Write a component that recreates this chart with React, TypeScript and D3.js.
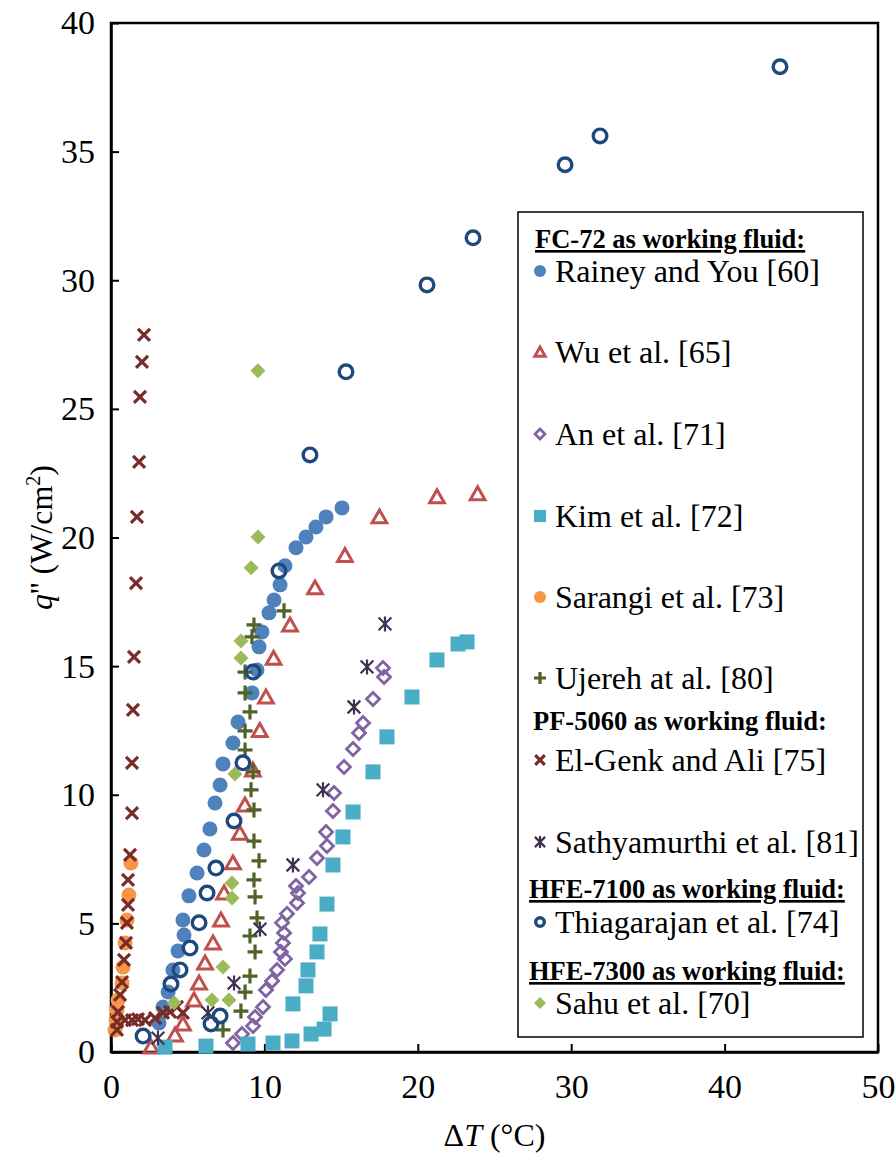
import React, { useRef, useEffect } from 'react';
import * as d3 from 'd3';

// [ΔT, q''] pairs
const rainey = [
  [3.13, 1.13], [3.39, 1.75], [3.72, 2.33], [4.04, 3.19], [4.37, 3.93], [4.76, 4.55], [4.69, 5.13],
  [5.08, 6.07], [5.61, 6.96], [6.06, 7.85], [6.45, 8.67], [6.78, 9.68], [7.11, 10.38], [7.3, 11.2],
  [7.95, 12.01], [8.28, 12.83], [9.19, 13.96], [9.52, 14.85], [9.65, 15.75], [9.84, 16.33],
  [10.3, 17.07], [10.63, 17.57], [11.02, 18.16], [11.34, 18.9], [12.06, 19.6], [12.71, 20.02],
  [13.36, 20.41], [14.02, 20.8], [15.06, 21.15],
];
const wu = [
  [2.61, 0.19], [4.17, 0.66], [4.69, 1.09], [5.41, 2.02], [5.74, 2.68], [6.13, 3.46], [6.65, 4.24],
  [7.17, 5.13], [7.37, 6.18], [7.95, 7.35], [8.4, 8.5], [8.73, 9.6], [9.25, 10.96], [9.7, 12.5],
  [10.1, 13.8], [10.6, 15.3], [11.67, 16.6], [13.3, 18.04], [15.25, 19.3], [17.5, 20.8],
  [21.25, 21.58], [23.9, 21.7],
];
const an = [
  [7.95, 0.35], [8.54, 0.7], [9.26, 1.01], [9.39, 1.36], [9.91, 1.75], [10.1, 2.41], [10.5, 2.76],
  [10.82, 3.19], [11.34, 3.62], [11.08, 3.89], [11.21, 4.24], [11.28, 4.63], [11.15, 5.02],
  [11.47, 5.37], [12.13, 5.79], [12.19, 6.18], [12.06, 6.45], [12.91, 6.8], [13.43, 7.54],
  [14.08, 8.01], [14.02, 8.55], [14.47, 9.37], [14.54, 10.07], [15.19, 11.08], [15.78, 11.78],
  [16.17, 12.4], [16.43, 12.79], [17.08, 13.72], [17.8, 14.58], [17.73, 14.93],
];
const kim = [
  [3.52, 0.19], [6.19, 0.23], [8.93, 0.31], [10.56, 0.35], [11.8, 0.43], [13.04, 0.7], [13.89, 0.89],
  [14.28, 1.48], [11.86, 1.87], [12.71, 2.57], [12.84, 3.19], [13.43, 3.89], [13.62, 4.59],
  [14.08, 5.75], [14.47, 7.27], [15.12, 8.36], [15.78, 9.33], [17.08, 10.89], [17.99, 12.25],
  [19.62, 13.8], [21.25, 15.24], [22.62, 15.86], [23.21, 15.94],
];
const sarangi = [
  [1.3, 7.35], [1.17, 6.1], [1.04, 5.13], [0.91, 4.24], [0.78, 3.3], [0.72, 2.68], [0.46, 2.02],
  [0.39, 1.63], [0.33, 1.24], [0.26, 0.86],
];
const ujereh = [
  [7.3, 0.86], [8.47, 1.59], [8.74, 2.33], [9.06, 2.95], [9.39, 3.89], [9.06, 4.51], [9.52, 5.21],
  [9.39, 6.03], [9.32, 6.69], [9.65, 7.43], [9.32, 8.2], [9.32, 9.41], [9.13, 10.19], [9.26, 10.89],
  [8.74, 11.74], [8.74, 12.48], [9.06, 13.22], [8.74, 13.96], [8.74, 14.77], [9.19, 16.14],
  [9.32, 16.6], [11.28, 17.15],
];
const elGenk = [
  [2.15, 27.88], [2.02, 26.83], [1.89, 25.47], [1.83, 22.94], [1.69, 20.8], [1.63, 18.23],
  [1.5, 15.36], [1.43, 13.3], [1.37, 11.24], [1.37, 9.29], [1.24, 7.66], [1.11, 6.69], [1.11, 5.72],
  [1.04, 5.02], [0.98, 4.24], [0.85, 3.58], [0.72, 2.72], [0.59, 2.22], [0.46, 1.56], [0.39, 1.17],
  [0.39, 0.86], [0.91, 1.24], [1.37, 1.24], [1.76, 1.28], [2.22, 1.24], [2.87, 1.32], [3.39, 1.52],
  [3.85, 1.56], [4.3, 1.75], [4.69, 1.52],
];
const sathyamurthi = [
  [3.06, 0.54], [6.32, 1.52], [8.02, 2.68], [9.71, 4.78], [11.86, 7.27], [13.82, 10.19],
  [15.84, 13.41], [16.69, 14.97], [17.86, 16.64],
];
const thiagarajan = [
  [2.09, 0.62], [3.91, 2.64], [4.5, 3.19], [5.15, 4.04], [5.74, 5.02], [6.26, 6.18], [6.84, 7.15],
  [8.02, 8.98], [8.6, 11.24], [9.26, 14.77], [10.95, 18.7], [6.52, 1.09], [7.11, 1.4],
  [12.97, 23.21], [15.32, 26.44], [20.6, 29.82], [23.6, 31.65], [29.6, 34.49], [31.88, 35.61],
  [43.61, 38.3],
];
const sahu = [
  [4.11, 1.91], [6.58, 2.02], [7.69, 2.02], [7.3, 3.3], [7.89, 5.99], [7.89, 6.57], [8.08, 10.81],
  [8.47, 15.32], [8.47, 15.98], [9.13, 18.82], [9.58, 20.02], [9.58, 26.48],
];

const xTicks = [0, 10, 20, 30, 40, 50];
const yTicks = [0, 5, 10, 15, 20, 25, 30, 35, 40];

const series = [
  { name: 'Rainey and You [60]', data: rainey, shape: 'circle', color: '#4f81bd', size: 15 },
  { name: 'Wu et al. [65]', data: wu, shape: 'triangle', color: '#c0504d', size: 16 },
  { name: 'An et al. [71]', data: an, shape: 'diamondOpen', color: '#8064a2', size: 15 },
  { name: 'Kim et al. [72]', data: kim, shape: 'square', color: '#4bacc6', size: 15 },
  { name: 'Sarangi et al. [73]', data: sarangi, shape: 'circle', color: '#f79646', size: 15 },
  { name: 'Ujereh at al. [80]', data: ujereh, shape: 'plus', color: '#4f6228', size: 15 },
  { name: 'El-Genk and Ali [75]', data: elGenk, shape: 'cross', color: '#772c2a', size: 15 },
  { name: 'Sathyamurthi et al. [81]', data: sathyamurthi, shape: 'asterisk', color: '#403152', size: 15 },
  { name: 'Thiagarajan et al. [74]', data: thiagarajan, shape: 'ring', color: '#1f497d', size: 17 },
  { name: 'Sahu et al. [70]', data: sahu, shape: 'diamond', color: '#9bbb59', size: 15 },
];

const FONT = 'Liberation Serif, Times New Roman, serif';

function drawMarker(g, shape, cx, cy, s, color) {
  const h = s / 2;
  if (shape === 'circle') {
    g.append('circle').attr('cx', cx).attr('cy', cy).attr('r', h).attr('fill', color);
  } else if (shape === 'ring') {
    g.append('circle').attr('cx', cx).attr('cy', cy).attr('r', h - 1.7)
      .attr('fill', 'none').attr('stroke', color).attr('stroke-width', 3.4);
  } else if (shape === 'triangle') {
    const r = h - 1;
    g.append('path')
      .attr('d', `M${cx},${cy - r}L${cx + r * 1.05},${cy + r * 0.85}L${cx - r * 1.05},${cy + r * 0.85}Z`)
      .attr('fill', 'none').attr('stroke', color).attr('stroke-width', 3).attr('stroke-linejoin', 'miter');
  } else if (shape === 'diamondOpen') {
    const r = h - 1;
    g.append('path')
      .attr('d', `M${cx},${cy - r}L${cx + r},${cy}L${cx},${cy + r}L${cx - r},${cy}Z`)
      .attr('fill', 'none').attr('stroke', color).attr('stroke-width', 2.8);
  } else if (shape === 'diamond') {
    g.append('path')
      .attr('d', `M${cx},${cy - h}L${cx + h},${cy}L${cx},${cy + h}L${cx - h},${cy}Z`)
      .attr('fill', color);
  } else if (shape === 'square') {
    g.append('rect').attr('x', cx - h).attr('y', cy - h).attr('width', s).attr('height', s)
      .attr('fill', color);
  } else if (shape === 'plus') {
    g.append('path')
      .attr('d', `M${cx - h},${cy}L${cx + h},${cy}M${cx},${cy - h}L${cx},${cy + h}`)
      .attr('stroke', color).attr('stroke-width', 3.2);
  } else if (shape === 'cross') {
    const r = h * 0.8;
    g.append('path')
      .attr('d', `M${cx - r},${cy - r}L${cx + r},${cy + r}M${cx - r},${cy + r}L${cx + r},${cy - r}`)
      .attr('stroke', color).attr('stroke-width', 3.2);
  } else if (shape === 'asterisk') {
    const r = h * 0.85;
    g.append('path')
      .attr('d', `M${cx - r},${cy - r}L${cx + r},${cy + r}M${cx - r},${cy + r}L${cx + r},${cy - r}M${cx},${cy - h}L${cx},${cy + h}`)
      .attr('stroke', color).attr('stroke-width', 2.2);
  }
}

export default function App() {
  const svgRef = useRef(null);
  const width = 896;
  const height = 1153;
  const margin = { top: 23, right: 18, bottom: 101, left: 111 };

  useEffect(() => {
    const svg = d3.select(svgRef.current);
    svg.selectAll('*').remove();

    const x = d3.scaleLinear().domain([0, 50]).range([margin.left, width - margin.right]);
    const y = d3.scaleLinear().domain([0, 40]).range([height - margin.bottom, margin.top]);

    // frame
    svg.append('rect')
      .attr('x', x(0)).attr('y', y(40))
      .attr('width', x(50) - x(0)).attr('height', y(0) - y(40))
      .attr('fill', 'none').attr('stroke', 'black').attr('stroke-width', 2.5);

    // x axis, ticks inside
    svg.append('g')
      .attr('transform', `translate(0,${y(0)})`)
      .call(d3.axisBottom(x).tickValues(xTicks).tickSize(-8).tickSizeOuter(0).tickPadding(22))
      .call(g => g.select('.domain').attr('stroke-width', 2.5))
      .call(g => g.selectAll('.tick line').attr('stroke-width', 2))
      .call(g => g.selectAll('.tick text').attr('font-size', 34).attr('font-family', FONT).attr('fill', 'black'));

    // y axis, ticks inside
    svg.append('g')
      .attr('transform', `translate(${x(0)},0)`)
      .call(d3.axisLeft(y).tickValues(yTicks).tickSize(-8).tickSizeOuter(0).tickPadding(16))
      .call(g => g.select('.domain').attr('stroke-width', 2.5))
      .call(g => g.selectAll('.tick line').attr('stroke-width', 2))
      .call(g => g.selectAll('.tick text').attr('font-size', 34).attr('font-family', FONT).attr('fill', 'black'));

    // axis titles
    const xt = svg.append('text')
      .attr('x', (x(0) + x(50)) / 2).attr('y', 1146)
      .attr('text-anchor', 'middle').attr('font-size', 32).attr('font-family', FONT);
    xt.append('tspan').text('Δ');
    xt.append('tspan').attr('font-style', 'italic').text('T');
    xt.append('tspan').text(' (°C)');

    const yt = svg.append('text')
      .attr('transform', `translate(52,${(y(0) + y(40)) / 2}) rotate(-90)`)
      .attr('text-anchor', 'middle').attr('font-size', 32).attr('font-family', FONT);
    yt.append('tspan').attr('font-style', 'italic').text('q');
    yt.append('tspan').text("'' (W/cm");
    yt.append('tspan').attr('font-size', 20).attr('dy', -12).text('2');
    yt.append('tspan').attr('dy', 12).text(')');

    // data points
    const pts = svg.append('g');
    series.forEach(s => {
      s.data.forEach(([dx, dy]) => drawMarker(pts, s.shape, x(dx), y(dy), s.size, s.color));
    });

    // legend
    const lg = svg.append('g');
    lg.append('rect').attr('x', 518).attr('y', 212).attr('width', 345).attr('height', 825)
      .attr('fill', 'white').attr('stroke', 'black').attr('stroke-width', 1.5);

    const headers = [
      { text: 'FC-72 as working fluid:', x: 535, y: 248, underline: true },
      { text: 'PF-5060 as working fluid:', x: 533, y: 730, underline: false },
      { text: 'HFE-7100 as working fluid:', x: 529, y: 898, underline: true },
      { text: 'HFE-7300 as working fluid:', x: 529, y: 980, underline: true },
    ];
    headers.forEach(h => {
      lg.append('text').attr('x', h.x).attr('y', h.y)
        .attr('font-size', 26.5).attr('font-weight', 'bold').attr('font-family', FONT)
        .attr('text-decoration', h.underline ? 'underline' : 'none')
        .text(h.text);
    });

    const rowY = [271, 352, 434, 516, 597, 678, 760, 842, 922, 1003];
    series.forEach((s, i) => {
      drawMarker(lg, s.shape, 540, rowY[i], 12, s.color);
      lg.append('text').attr('x', 555).attr('y', rowY[i]).attr('dy', '0.35em')
        .attr('font-size', 32).attr('font-family', FONT).text(s.name);
    });
  }, []);

  return (
    <svg ref={svgRef} width={width} height={height}
      style={{ position: 'absolute', top: 0, left: 0, background: 'white' }} />
  );
}
